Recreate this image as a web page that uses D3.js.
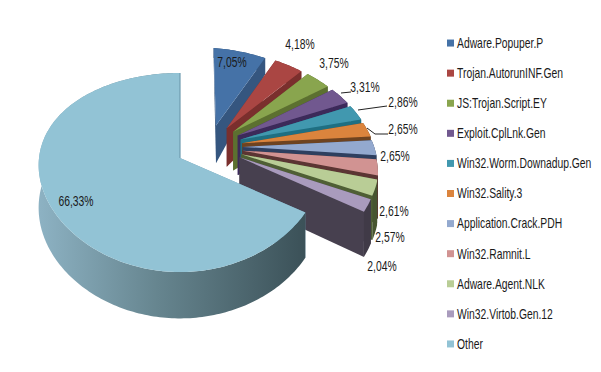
<!DOCTYPE html>
<html>
<head>
<meta charset="utf-8">
<script src="https://cdn.jsdelivr.net/npm/d3@7"></script>
<style>
    html, body { margin: 0; padding: 0; background: #fff; }
    text { font-family: "Liberation Sans", sans-serif; fill: #1a1a1a; }
</style>
</head>
<body>
<div id="pie-chart"></div>
<script>
const names = ['Adware.Popuper.P', 'Trojan.AutorunINF.Gen', 'JS:Trojan.Script.EY', 'Exploit.CplLnk.Gen',
    'Win32.Worm.Downadup.Gen', 'Win32.Sality.3', 'Application.Crack.PDH', 'Win32.Ramnit.L',
    'Adware.Agent.NLK', 'Win32.Virtob.Gen.12', 'Other'];
const values = [7.05, 4.18, 3.75, 3.31, 2.86, 2.65, 2.65, 2.61, 2.57, 2.04, 66.33];
const valueLabels = ['7,05%', '4,18%', '3,75%', '3,31%', '2,86%', '2,65%', '2,65%', '2,61%', '2,57%', '2,04%', '66,33%'];
const topColors = ['#4572a7', '#aa4643', '#89a54e', '#71588f', '#4198af', '#db843d', '#93a9cf', '#d19392', '#b9cd96', '#a99bbd', '#92c3d5'];
const sideColors = ['#35567f', '#7a2f2d', '#5c7030', '#3c2a5a', '#1f6f82', '#6e4320', '#2e3f5f', '#5b3533', '#4f5f35', '#47404f', '#6f9cb0'];

// label centres on the page, same order as values
const labelX = [232, 300, 334, 365, 403, 403, 395, 394, 390, 382, 76];
const labelY = [62, 44, 63, 87, 102, 129, 156, 211, 237, 266, 201];
// leader lines: [label index, from, to]
const leaders = [
    [3, [341, 93], [351, 92]],
    [4, [358, 110], [387, 106]],
    [5, [367, 128], [375, 134], [388, 134]]
];

const width = 601;
const height = 372;
const narrow = 0.74;

// projection of the tilted pie
const cx = 180, cy = 158, rx = 141, ry = 97.4, persp = 0.146, explode = 0.24;

function project(u, v) {
    const w = 1 / (1 - persp * v);
    const wx = 1 / (1 - persp * 0.5 * v);
    return [cx + rx * u * wx, cy + ry * v * w];
}

// wall height shrinks towards the back of the pie
function drop(p) {
    return [p[0], p[1] + 47 * (1 - Math.exp(-(p[1] - 35) / 55))];
}

// the small slices bulge less than a true ellipse on the upper right
function rimRadius(a) {
    return 1 - 0.08 * Math.max(0, Math.sin(a * 1.7));
}

const svg = d3.select('#pie-chart')
    .append('svg')
    .attr('width', width)
    .attr('height', height);

const defs = svg.append('defs');
const rimGrad = defs.append('linearGradient')
    .attr('id', 'other-rim')
    .attr('gradientUnits', 'userSpaceOnUse')
    .attr('x1', 39).attr('x2', 302).attr('y1', 0).attr('y2', 0);
rimGrad.append('stop').attr('offset', 0).attr('stop-color', '#8db2c3');
rimGrad.append('stop').attr('offset', 0.45).attr('stop-color', '#66858f');
rimGrad.append('stop').attr('offset', 1).attr('stop-color', '#3c5259');

const pie = d3.pie().sort(null).value(d => d);
const arcs = pie(values);

const otherMid = (arcs[10].startAngle + arcs[10].endAngle) / 2;
const originU = -explode * Math.sin(otherMid);
const originV = explode * Math.cos(otherMid);

const line = d3.line();
const chart = svg.append('g');

arcs.forEach((d, i) => {
    const mid = (d.startAngle + d.endAngle) / 2;
    const u0 = originU + explode * Math.sin(mid);
    const v0 = originV - explode * Math.cos(mid);
    const apex = project(u0, v0);

    const angles = d3.range(d.startAngle, d.endAngle, 0.02).concat([d.endAngle]);
    const rim = angles.map(a => {
        const r = i === 10 ? 1 : rimRadius(a);
        const sx = i === 10 ? 1 : 0.975;
        return project(u0 + sx * r * Math.sin(a), v0 - r * Math.cos(a));
    });
    const rimLow = rim.map(drop);
    const first = rim[0];
    const last = rim[rim.length - 1];

    const g = chart.append('g').attr('class', 'slice');
    const side = sideColors[i];

    // start face, rim wall, end face, then the top
    g.append('path').attr('fill', side)
        .attr('d', line([apex, first, drop(first), drop(apex)]) + 'Z');
    g.append('path').attr('fill', i === 10 ? 'url(#other-rim)' : d3.color(side).darker(0.3))
        .attr('d', line(rim.concat(rimLow.slice().reverse())) + 'Z');
    g.append('path').attr('fill', side)
        .attr('d', line([apex, last, drop(last), drop(apex)]) + 'Z');
    g.append('path').attr('fill', topColors[i])
        .attr('d', line([apex].concat(rim)) + 'Z');
    if (i === 10) {
        // thin cut face along the back edge of the big slice
        g.append('path').attr('fill', 'none').attr('stroke', side).attr('stroke-width', 1.2)
            .attr('d', line([apex, last]));
    }
});

// leader lines
chart.selectAll('.leader')
    .data(leaders)
    .enter()
    .append('path')
    .attr('class', 'leader')
    .attr('fill', 'none')
    .attr('stroke', '#222')
    .attr('stroke-width', 1)
    .attr('d', d => line(d.slice(1)));

// value labels
chart.selectAll('.value-label')
    .data(valueLabels)
    .enter()
    .append('text')
    .attr('class', 'value-label')
    .attr('transform', (d, i) => `translate(${labelX[i]},${labelY[i]}) scale(${narrow},1)`)
    .attr('text-anchor', 'middle')
    .attr('dy', '0.35em')
    .style('font-size', '14px')
    .text(d => d);

// legend
const legendY = d3.scaleBand()
    .domain(names)
    .range([28, 359]);

const legend = svg.selectAll('.legend-item')
    .data(names)
    .enter()
    .append('g')
    .attr('class', 'legend-item')
    .attr('transform', d => `translate(447,${legendY(d) + legendY.bandwidth() / 2})`);

legend.append('rect')
    .attr('y', -3.5)
    .attr('width', 7)
    .attr('height', 7)
    .attr('fill', (d, i) => topColors[i]);

legend.append('text')
    .attr('transform', `translate(10,0) scale(${narrow},1)`)
    .attr('dy', '0.35em')
    .style('font-size', '14px')
    .text(d => d);
</script>
</body>
</html>
